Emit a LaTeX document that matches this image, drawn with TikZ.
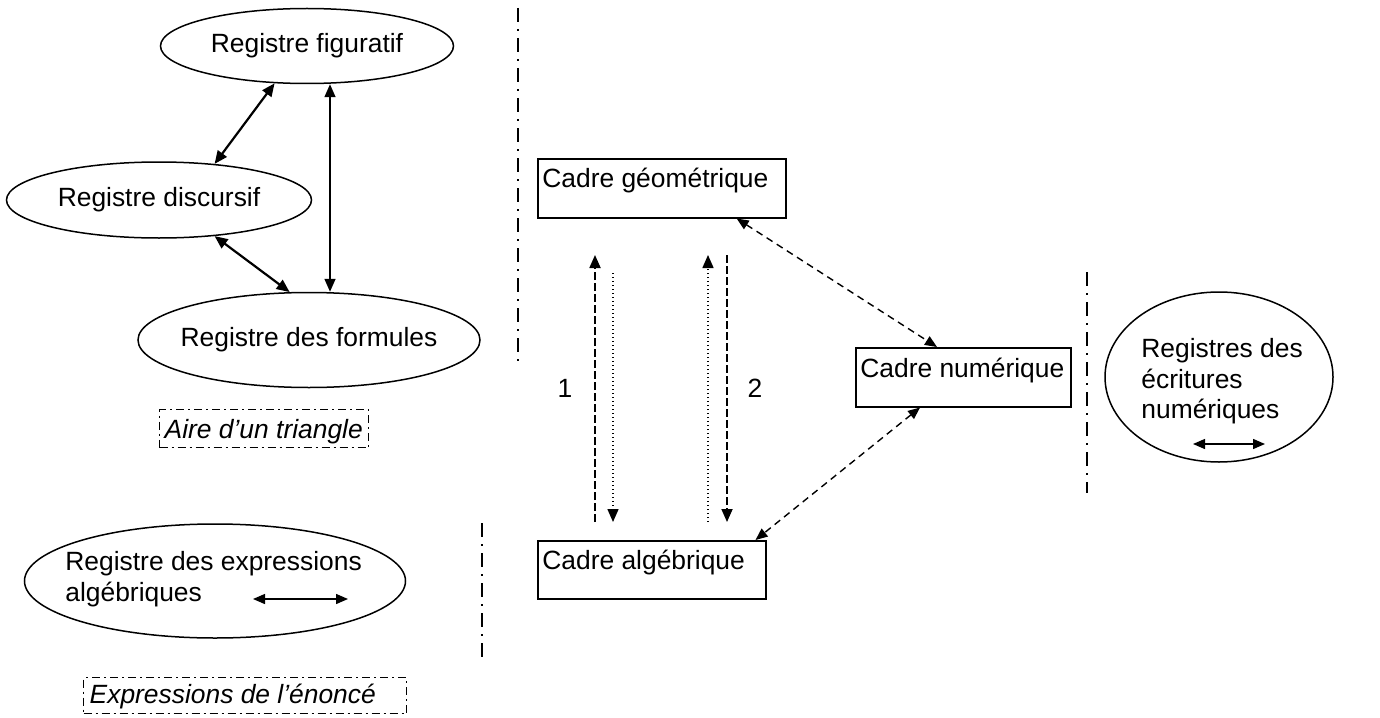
\documentclass[tikz,border=0pt]{standalone}
\usepackage{fontspec}
\setmainfont{Liberation Sans}
\usetikzlibrary{arrows.meta,shapes.geometric}
\newcommand\figfont{\fontsize{13.2}{15.3}\selectfont}
\newcommand\leftbox[2]{\makebox[#1][l]{#2}}
\begin{document}
\begin{tikzpicture}[x=0.5pt,y=-0.5pt,
  font=\figfont,
  reg/.style={ellipse, draw, line width=0.75pt, inner sep=0pt},
  cadre/.style={rectangle, draw, line width=0.75pt, anchor=north west, inner xsep=2.3pt, inner ysep=0pt},
  note/.style={rectangle, draw, line width=0.7pt, dash pattern=on 4pt off 2pt on 1pt off 2pt, anchor=north west, inner ysep=0pt, font=\figfont\itshape},
  sepline/.style={line width=0.7pt, dash pattern=on 7pt off 3.5pt on 1pt off 3.5pt},
  tip/.style={>={Triangle[length=6.5pt,width=5.5pt]}},
  smalltip/.style={>={Triangle[length=6pt,width=5pt]}},
  solidlink/.style={tip, <->, line width=1.1pt},
  thinlink/.style={tip, <->, line width=0.8pt},
  inlink/.style={smalltip, <->, line width=0.7pt},
  diaglink/.style={smalltip, <->, line width=0.7pt, dash pattern=on 3.5pt off 2.5pt},
  longdash/.style={tip, ->, line width=0.9pt, dash pattern=on 4pt off 1.5pt},
  dotline/.style={tip, ->, line width=0.75pt, dash pattern=on 0.7pt off 1.3pt},
  txt/.style={inner sep=0pt, align=left}
]
\fill[white] (0,0) rectangle (1380,717);
\useasboundingbox (0,0) rectangle (1380,717);

% separators
\draw[sepline] (518,8) -- (518,368);
\draw[sepline] (482,523) -- (482,657);
\draw[sepline] (1087,272) -- (1087,493);

% registers (left)
\node[reg, minimum width=146.5pt, minimum height=37.5pt, inner xsep=-1pt] (fig) at (307,46) {Registre figuratif\hspace{9pt}};
\node[reg, minimum width=152.5pt, minimum height=38pt, inner xsep=-1pt] (dis) at (159,200) {Registre discursif\hspace{8pt}};
\node[reg, minimum width=171pt, minimum height=47.5pt, inner xsep=-6pt] (form) at (309,340) {Registre des formules};

\coordinate (vx) at (330,0);
\draw[solidlink] (fig.229) -- (dis.33);
\draw[solidlink] (dis.-33) -- (form.112);
\draw[thinlink] (fig.south -| vx) -- (form.north -| vx);

\node[note, inner xsep=2.5pt, text height=14.5pt, text depth=4.5pt] (aire) at (159,409) {\leftbox{99.5pt}{Aire d’un triangle}};

% expressions algebriques
\node[reg, minimum width=190.5pt, minimum height=57pt] (expr) at (215,581) {};
\node[txt, anchor=north west] (exprtxt) at (65,551) {Registre des expressions\\algébriques};
\coordinate (ea1) at (253,599);
\coordinate (ea2) at (348,599);
\draw[inlink] (ea1) -- (ea2);

\node[note, inner xsep=3pt, text height=13pt, text depth=5pt] (enon) at (83,677) {\leftbox{155.5pt}{Expressions de l’énoncé}};

% cadres
\node[cadre, text height=14.5pt, text depth=15pt] (geo) at (537,158) {\leftbox{119.4pt}{Cadre géométrique}};
\node[cadre, text height=14.5pt, text depth=14.5pt] (alg) at (537,540) {\leftbox{109.4pt}{Cadre algébrique}};
\node[cadre, text height=15pt, text depth=14.5pt] (num) at (855,347) {\leftbox{102.9pt}{Cadre numérique}};

% vertical changes of frame
\coordinate (a1b) at (595,522);
\coordinate (a1t) at (595,255);
\coordinate (b1t) at (613,273);
\coordinate (b1b) at (613,522);
\coordinate (a2b) at (708,522);
\coordinate (a2t) at (708,255);
\coordinate (b2t) at (727,255);
\coordinate (b2b) at (727,522);
\draw[longdash] (a1b) -- (a1t);
\draw[dotline] (b1t) -- (b1b);
\draw[dotline] (a2b) -- (a2t);
\draw[longdash] (b2t) -- (b2b);
\node (l1) at (565,388) {1};
\node (l2) at (755,388) {2};

% diagonal links
\draw[diaglink] (geo.-22) -- (num.131);
\draw[diaglink] (num.215) -- (alg.16);

% ecritures numeriques
\node[reg, minimum width=114pt, minimum height=85pt] (ecr) at (1219,377) {};
\node[txt, anchor=north west] (ecrtxt) at (1141,338) {Registres des\\écritures\\numériques};
\coordinate (en1) at (1193,444);
\coordinate (en2) at (1265,444);
\draw[inlink] (en1) -- (en2);
\end{tikzpicture}
\end{document}
